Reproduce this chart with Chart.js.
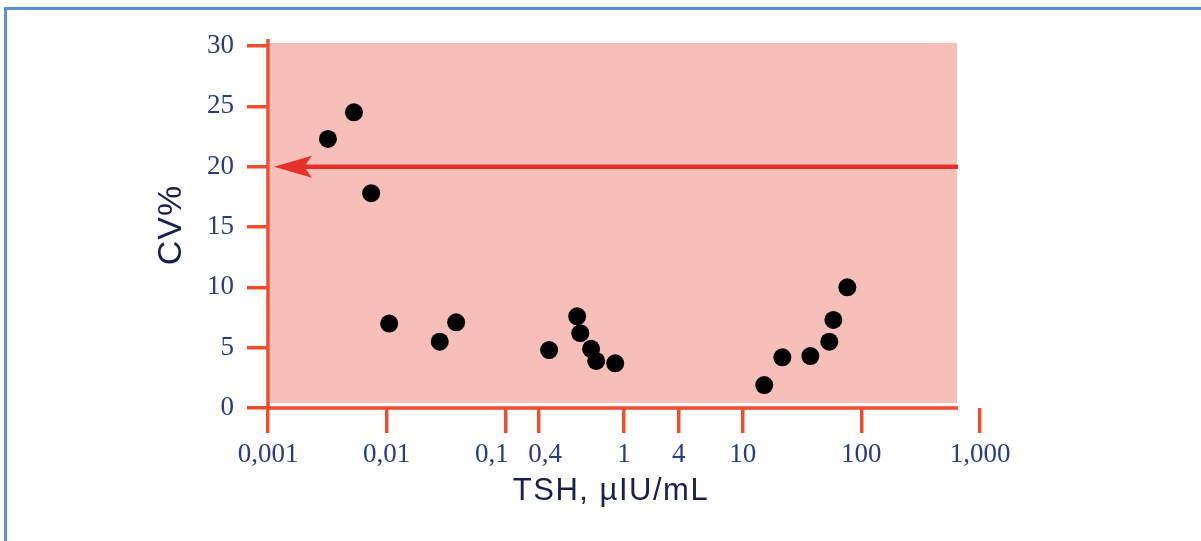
<!DOCTYPE html>
<html>
<head>
<meta charset="utf-8">
<script src="https://cdn.jsdelivr.net/npm/chart.js@4"></script>
<style>
  html, body { margin: 0; padding: 0; background: #fff; }
  #wrap { position: relative; width: 1201px; height: 541px; overflow: hidden; }
  #frame { position: absolute; left: 4px; top: 7px; width: 1300px; height: 700px;
           border-top: 3px solid #5b8fd6; border-left: 3px solid #5b8fd6; }
  #chart { position: absolute; left: 0; top: 0; }
</style>
</head>
<body>
<div id="wrap">
  <div id="frame"></div>
  <canvas id="chart" width="1201" height="541"></canvas>
</div>
<script>
// ── Data ─────────────────────────────────────────────────────
const tshValues = [0.0032, 0.0053, 0.0074, 0.0105, 0.028, 0.0385, 0.234, 0.403, 0.428,
                   0.528, 0.583, 0.843, 15.2, 21.6, 37.2, 53.7, 58.1, 76.2];
const cvValues  = [22.3, 24.5, 17.8, 7.0, 5.5, 7.1, 4.8, 7.6, 6.2,
                   4.9, 3.9, 3.7, 1.9, 4.2, 4.3, 5.5, 7.3, 10.0];
// where the printed x ticks sit (the original figure places 0,4 and 4 off-log)
const xTickPositions = [0.001, 0.01, 0.1, 0.19, 1, 2.9, 10, 100, 1000];
const xTickLabels    = ['0,001', '0,01', '0,1    ', '  0,4', '1', '4', '10', '100', '1,000'];
const yTicks = [0, 5, 10, 15, 20, 25, 30];
const cvLimit = 20;

const AXIS_RED = '#f04c2e';
const ARROW_RED = '#e8302a';
const PINK = '#f6bfba';
const NAVY = '#1a1f4e';
const TICK_BLUE = '#283c82';

// ── Background, axis lines, arrow, titles ───────────────────
const decor = {
    id: 'decor',
    beforeDraw(chart) {
        const { ctx, chartArea: a } = chart;
        ctx.save();
        ctx.fillStyle = PINK;
        ctx.fillRect(a.left + 2, a.top - 3, (a.right - 23) - (a.left + 2), (a.bottom - 5) - (a.top - 3));
        ctx.restore();
    },
    beforeDatasetsDraw(chart) {
        const { ctx, chartArea: a, scales } = chart;
        ctx.save();
        ctx.strokeStyle = AXIS_RED;
        ctx.lineWidth = 3.5;
        ctx.beginPath();
        ctx.moveTo(a.left, a.top - 7);
        ctx.lineTo(a.left, a.bottom);
        ctx.moveTo(a.left, a.bottom);
        ctx.lineTo(a.right - 22, a.bottom);
        ctx.stroke();

        // limit arrow at CV 20%
        const y = scales.y.getPixelForValue(cvLimit);
        const tip = a.left + 6;
        ctx.strokeStyle = ARROW_RED;
        ctx.fillStyle = ARROW_RED;
        ctx.lineWidth = 4.5;
        ctx.beginPath();
        ctx.moveTo(tip + 20, y);
        ctx.lineTo(a.right - 22, y);
        ctx.stroke();
        ctx.beginPath();
        ctx.moveTo(tip, y);
        ctx.lineTo(tip + 38, y - 11);
        ctx.lineTo(tip + 30, y);
        ctx.lineTo(tip + 38, y + 11);
        ctx.closePath();
        ctx.fill();
        ctx.restore();
    },
    afterDraw(chart) {
        const { ctx } = chart;
        ctx.save();
        ctx.fillStyle = NAVY;
        ctx.textAlign = 'center';
        ctx.textBaseline = 'middle';
        ctx.font = '34px "Liberation Sans", Arial, sans-serif';
        ctx.letterSpacing = '1px';
        ctx.translate(172, 225);
        ctx.rotate(-Math.PI / 2);
        ctx.fillText('CV%', 0, 0);
        ctx.setTransform(1, 0, 0, 1, 0, 0);
        ctx.font = '31px "Liberation Sans", Arial, sans-serif';
        ctx.letterSpacing = '1.5px';
        ctx.fillText('TSH, µIU/mL', 611, 491);
        ctx.restore();
    }
};

// ── Scatter chart ───────────────────────────────────────────
const ctx = document.getElementById('chart').getContext('2d');
new Chart(ctx, {
    type: 'scatter',
    data: {
        datasets: [{
            data: tshValues.map((x, i) => ({ x: x, y: cvValues[i] })),
            backgroundColor: '#000',
            borderWidth: 0,
            pointRadius: 9,
            pointHoverRadius: 9
        }]
    },
    options: {
        responsive: false,
        animation: false,
        layout: { padding: { top: 46, right: 221, left: 0, bottom: 0 } },
        plugins: { legend: { display: false }, tooltip: { enabled: false } },
        scales: {
            x: {
                type: 'logarithmic',
                min: 0.001,
                max: 1000,
                afterBuildTicks: s => { s.ticks = xTickPositions.map(v => ({ value: v })); },
                afterFit: s => { s.height = 133; },
                grid: { drawOnChartArea: false, drawTicks: true, tickLength: 25, color: AXIS_RED, lineWidth: 3.5 },
                border: { display: false },
                ticks: {
                    autoSkip: false,
                    maxRotation: 0,
                    padding: 6,
                    color: TICK_BLUE,
                    font: { family: '"Liberation Serif", serif', size: 27 },
                    callback: (v, i) => xTickLabels[i]
                }
            },
            y: {
                min: 0,
                max: 30,
                afterBuildTicks: s => { s.ticks = yTicks.map(v => ({ value: v })); },
                afterFit: s => { s.width = 268; },
                grid: { drawOnChartArea: false, drawTicks: true, tickLength: 21, color: AXIS_RED, lineWidth: 3.5 },
                border: { display: false },
                ticks: {
                    padding: 13,
                    color: TICK_BLUE,
                    font: { family: '"Liberation Serif", serif', size: 27 }
                }
            }
        }
    },
    plugins: [decor]
});
</script>
</body>
</html>
